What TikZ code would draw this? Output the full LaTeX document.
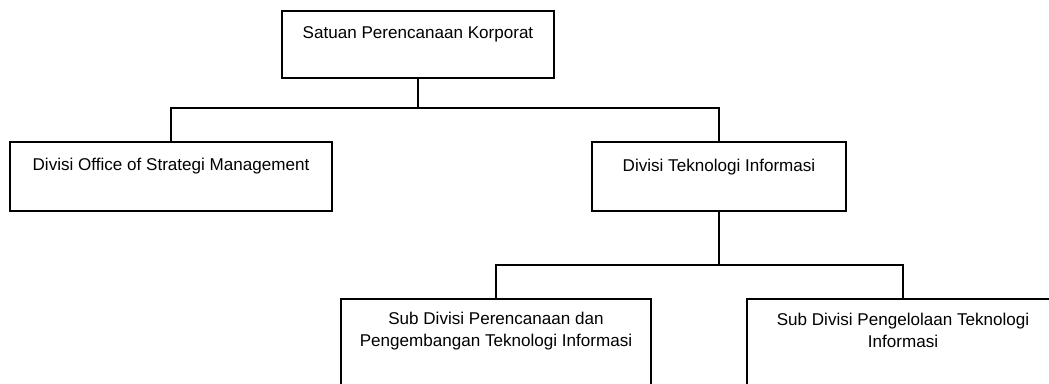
\documentclass[tikz,border=0pt]{standalone}
\usepackage{fontspec}
\setmainfont{Liberation Sans}
\usepackage{tikz}
\usetikzlibrary{positioning}
\tikzset{
  unit/.style={draw,line width=1pt,rectangle,inner sep=0pt},
  utxt/.style={anchor=base,align=center,inner sep=0pt},
  link/.style={line width=1pt}
}

\begin{document}
\begin{tikzpicture}[x=0.75pt,y=-0.75pt,font=\fontsize{12.8}{16.5}\selectfont]
\useasboundingbox (0,0) rectangle (1049,383);
% LEVEL 0
\node[unit,minimum width=204pt,minimum height=50.25pt] (spk) at (418,44.5) {};
\node[utxt] (spk-t) at (418,38) {Satuan Perencanaan Korporat};
% LEVEL 1
\node[unit,minimum width=241.5pt,minimum height=51.75pt] (osm) at (171,176.5) {};
\node[utxt] (osm-t) at (171,170) {Divisi Office of Strategi Management};
\node[unit,minimum width=190.5pt,minimum height=51.75pt] (dti) at (719,176.5) {};
\node[utxt] (dti-t) at (719,171) {Divisi Teknologi Informasi};
% LEVEL 2 (base = last line)
\node[unit,minimum width=232.5pt,minimum height=75pt] (ppti) at (496,349) {};
\node[utxt] (ppti-t) at (496,346) {Sub Divisi Perencanaan dan\\Pengembangan Teknologi Informasi};
\node[unit,minimum width=234pt,minimum height=75pt] (pti) at (903,349) {};
\node[utxt] (pti-t) at (903,347) {Sub Divisi Pengelolaan Teknologi\\Informasi};
% connectors
\coordinate (j1) at (418,108);
\coordinate (j2) at (719,265);
\draw[link] (spk.south) -- (j1);
\draw[link] (osm.north) |- (j1) -| (dti.north);
\draw[link] (dti.south) -- (j2);
\draw[link] (ppti.north) |- (j2) -| (pti.north);
\end{tikzpicture}
\end{document}
